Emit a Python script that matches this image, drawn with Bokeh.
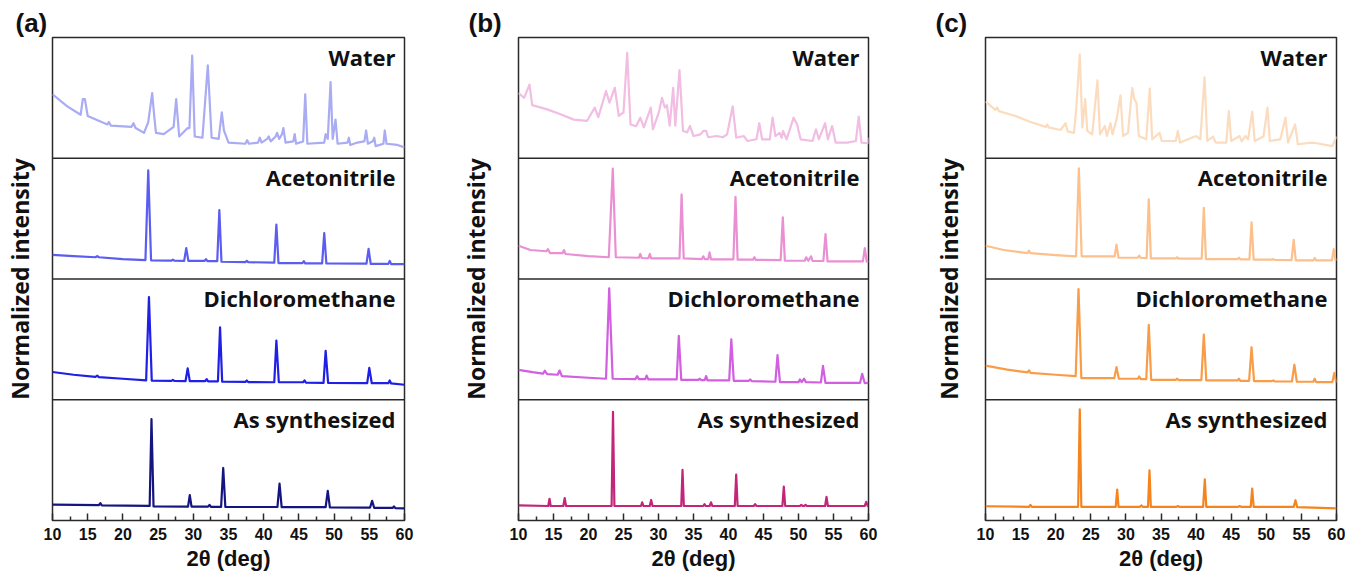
from bokeh.plotting import figure
from bokeh.models import Span, Label, FixedTicker, Range1d
from bokeh.layouts import row
from bokeh.embed import file_html
from bokeh.resources import INLINE

# ---------------- data (2-theta in deg, normalized intensity per sub-panel) ----------------
SAMPLES = ["Water", "Acetonitrile", "Dichloromethane", "As synthesized"]
PANELS = ["(a)", "(b)", "(c)"]
X_TICKS = [10, 15, 20, 25, 30, 35, 40, 45, 50, 55, 60]

# panel (a)
A_WATER_X = [10.0, 12.1, 14.0, 14.3, 14.6, 15.0, 17.8, 18.0, 18.3, 21.2, 21.5, 21.8, 23.0, 23.6, 24.16, 24.45, 24.7,
             25.8, 27.2, 27.57, 28.0, 29.2, 29.45, 29.84, 30.2, 31.3, 32.06, 32.6, 33.6, 34.05, 34.35, 35.0, 37.4,
             37.65, 37.9, 39.2, 39.45, 39.7, 40.5, 40.7, 41.0, 41.7, 41.9, 42.2, 42.6, 42.8, 43.1, 44.2, 44.4, 44.6,
             45.6, 45.9, 46.2, 48.6, 48.8, 49.1, 49.5, 49.8, 50.2, 50.5, 51.9, 52.1, 52.3, 53.3, 54.3, 54.55, 54.8,
             55.5, 55.7, 55.9, 57.0, 57.2, 57.45, 59.0, 60.0]
A_WATER_Y = [0.53, 0.43, 0.36, 0.49, 0.49, 0.35, 0.28, 0.30, 0.27, 0.26, 0.29, 0.25, 0.21, 0.30, 0.54, 0.35, 0.21,
             0.20, 0.26, 0.49, 0.18, 0.25, 0.25, 0.85, 0.18, 0.17, 0.77, 0.17, 0.16, 0.38, 0.23, 0.13, 0.12,
             0.15, 0.12, 0.13, 0.17, 0.13, 0.16, 0.18, 0.14, 0.18, 0.21, 0.16, 0.20, 0.25, 0.13, 0.14, 0.20, 0.12,
             0.14, 0.53, 0.12, 0.13, 0.20, 0.16, 0.63, 0.16, 0.32, 0.12, 0.13, 0.17, 0.11, 0.13, 0.14, 0.23, 0.12,
             0.14, 0.17, 0.10, 0.12, 0.23, 0.12, 0.11, 0.09]
A_ACN_X = [10.0, 13.0, 16.1, 16.35, 16.6, 20.0, 23.2, 23.6, 24.0, 26.9, 27.1, 27.3, 28.7, 29.0, 29.3, 31.6, 31.8, 32.0,
           33.4, 33.7, 34.0, 37.4, 37.6, 37.8, 41.5, 41.8, 42.1, 45.5, 45.7, 45.9, 48.3, 48.6, 48.9, 54.6, 54.9,
           55.2, 57.7, 57.9, 58.1, 60.0]
A_ACN_Y = [0.20, 0.19, 0.18, 0.19, 0.18, 0.165, 0.157, 0.90, 0.155, 0.152, 0.16, 0.152, 0.15, 0.256, 0.15, 0.15, 0.165,
           0.148, 0.148, 0.57, 0.143, 0.14, 0.15, 0.14, 0.135, 0.45, 0.132, 0.132, 0.148, 0.13, 0.13, 0.38, 0.13,
           0.128, 0.25, 0.125, 0.125, 0.15, 0.124, 0.124]
A_DCM_X = [10.0, 13.0, 16.1, 16.35, 16.6, 20.0, 23.3, 23.7, 24.1, 26.9, 27.1, 27.3, 28.9, 29.2, 29.5, 31.7, 31.9, 32.1,
           33.5, 33.8, 34.1, 37.4, 37.6, 37.8, 41.5, 41.8, 42.15, 45.6, 45.8, 46.0, 48.5, 48.8, 49.15, 54.7, 55.0,
           55.35, 57.7, 57.9, 58.1, 60.0]
A_DCM_Y = [0.23, 0.207, 0.19, 0.20, 0.188, 0.174, 0.16, 0.85, 0.158, 0.157, 0.165, 0.156, 0.155, 0.26, 0.155, 0.155,
           0.17, 0.153, 0.153, 0.60, 0.15, 0.148, 0.16, 0.146, 0.145, 0.49, 0.145, 0.145, 0.16, 0.142, 0.14, 0.405,
           0.14, 0.138, 0.264, 0.137, 0.137, 0.16, 0.135, 0.124]
A_AS_X = [10.0, 16.6, 16.8, 17.0, 23.8, 24.06, 24.35, 29.25, 29.5, 29.75, 32.1, 32.3, 32.5, 33.95, 34.25, 34.55, 41.95,
          42.25, 42.55, 48.8, 49.1, 49.4, 55.1, 55.4, 55.7, 58.3, 58.5, 58.7, 60.0]
A_AS_Y = [0.132, 0.128, 0.143, 0.126, 0.121, 0.84, 0.117, 0.115, 0.21, 0.115, 0.115, 0.13, 0.113, 0.113, 0.435, 0.112,
          0.112, 0.305, 0.11, 0.11, 0.245, 0.108, 0.106, 0.163, 0.104, 0.104, 0.117, 0.102, 0.10]

# panel (b)
B_WATER_X = [10.0, 10.8, 11.57, 11.96, 14.1, 16.0, 17.9, 19.8, 20.9, 21.4, 22.5, 23.0, 23.76, 24.33, 25.0, 25.53, 26.0,
             26.8, 27.4, 27.9, 28.9, 29.2, 30.05, 30.5, 30.9, 31.2, 31.6, 32.1, 32.4, 33.0, 33.5, 34.1, 34.5, 35.0,
             36.0, 36.4, 36.8, 37.1, 38.3, 39.2, 39.8, 40.6, 41.1, 42.2, 42.7, 44.0, 44.4, 44.8, 45.9, 46.3, 46.7,
             47.3, 47.6, 47.8, 48.3, 49.3, 49.8, 50.3, 52.0, 52.5, 52.9, 53.8, 54.2, 54.8, 55.3, 57.0, 58.2, 58.6,
             59.0, 59.9, 60.0]
B_WATER_Y = [0.54, 0.50, 0.61, 0.44, 0.405, 0.364, 0.32, 0.31, 0.42, 0.34, 0.556, 0.46, 0.584, 0.35, 0.38, 0.873, 0.28,
             0.265, 0.336, 0.256, 0.42, 0.24, 0.38, 0.50, 0.42, 0.44, 0.27, 0.584, 0.27, 0.73, 0.226, 0.215, 0.267,
             0.184, 0.198, 0.226, 0.226, 0.174, 0.184, 0.174, 0.198, 0.43, 0.17, 0.184, 0.143, 0.157, 0.29, 0.157,
             0.157, 0.336, 0.184, 0.21, 0.17, 0.226, 0.157, 0.336, 0.28, 0.157, 0.143, 0.24, 0.157, 0.29, 0.157,
             0.267, 0.13, 0.13, 0.143, 0.345, 0.13, 0.124, 0.17]
B_ACN_X = [10.0, 11.7, 14.0, 14.2, 14.5, 16.3, 16.5, 16.7, 20.0, 22.9, 23.47, 23.9, 27.2, 27.4, 27.6, 28.55, 28.76,
           28.95, 33.0, 33.3, 33.6, 36.2, 36.4, 36.6, 37.1, 37.3, 37.5, 40.7, 41.0, 41.3, 43.5, 43.7, 43.9, 47.45,
           47.76, 48.05, 50.9, 51.1, 51.4, 51.8, 52.0, 53.55, 53.86, 54.15, 59.2, 59.47, 59.75, 60.0]
B_ACN_Y = [0.275, 0.24, 0.23, 0.248, 0.215, 0.215, 0.24, 0.207, 0.19, 0.18, 0.915, 0.18, 0.176, 0.207, 0.174, 0.172,
           0.207, 0.171, 0.171, 0.70, 0.171, 0.165, 0.188, 0.165, 0.165, 0.22, 0.163, 0.163, 0.68, 0.16, 0.16, 0.18,
           0.158, 0.157, 0.51, 0.151, 0.151, 0.18, 0.151, 0.188, 0.149, 0.149, 0.372, 0.146, 0.146, 0.256, 0.143,
           0.15]
B_DCM_X = [10.0, 12.0, 13.5, 13.76, 14.1, 15.6, 15.86, 16.2, 20.0, 22.5, 22.96, 23.45, 26.7, 26.95, 27.2, 28.1, 28.3,
           28.55, 32.6, 32.9, 33.25, 35.7, 35.9, 36.1, 36.6, 36.8, 37.0, 40.1, 40.4, 40.75, 42.9, 43.1, 43.3, 46.7,
           47.0, 47.35, 50.0, 50.2, 50.45, 50.8, 51.05, 53.2, 53.5, 53.85, 58.8, 59.1, 59.45, 60.0]
B_DCM_Y = [0.248, 0.229, 0.217, 0.24, 0.212, 0.207, 0.242, 0.196, 0.182, 0.174, 0.923, 0.174, 0.171, 0.196, 0.171,
           0.171, 0.20, 0.168, 0.168, 0.53, 0.165, 0.165, 0.174, 0.163, 0.163, 0.196, 0.16, 0.16, 0.50, 0.157, 0.157,
           0.168, 0.155, 0.149, 0.37, 0.146, 0.146, 0.168, 0.146, 0.174, 0.146, 0.143, 0.28, 0.14, 0.14, 0.215,
           0.138, 0.14]
B_AS_X = [10.0, 14.25, 14.43, 14.6, 16.4, 16.6, 16.8, 23.3, 23.5, 23.7, 27.5, 27.67, 27.85, 28.75, 28.95, 29.15, 33.25,
          33.43, 33.62, 36.4, 36.57, 36.75, 37.3, 37.5, 37.7, 40.9, 41.1, 41.3, 43.6, 43.8, 44.0, 47.7, 47.9, 48.1,
          50.2, 50.4, 50.6, 50.8, 51.0, 51.2, 53.8, 54.0, 54.2, 59.45, 59.67, 59.9, 60.0]
B_AS_Y = [0.125, 0.12, 0.18, 0.12, 0.12, 0.185, 0.12, 0.12, 0.90, 0.12, 0.12, 0.15, 0.12, 0.12, 0.17, 0.12, 0.12,
          0.42, 0.12, 0.12, 0.135, 0.12, 0.12, 0.15, 0.12, 0.12, 0.38, 0.12, 0.12, 0.135, 0.12, 0.12, 0.28, 0.12,
          0.12, 0.13, 0.12, 0.12, 0.13, 0.12, 0.12, 0.196, 0.12, 0.12, 0.155, 0.12, 0.12]

# panel (c)
C_WATER_X = [10.0, 11.4, 11.67, 11.9, 14.27, 16.4, 18.6, 18.8, 19.0, 20.7, 21.4, 21.7, 22.6, 22.9, 23.43, 23.8, 24.2,
             24.5, 25.2, 25.95, 26.3, 27.0, 27.3, 27.8, 28.1, 28.66, 29.23, 29.6, 30.3, 30.9, 31.2, 31.5, 31.84,
             32.9, 33.4, 33.75, 34.8, 35.1, 37.1, 37.4, 37.7, 40.0, 40.6, 41.2, 41.6, 42.4, 42.8, 44.3, 44.66, 45.0,
             46.2, 46.5, 47.0, 47.4, 48.0, 48.35, 49.6, 50.17, 50.5, 52.0, 52.73, 53.1, 54.1, 54.5, 56.5, 57.2, 59.4,
             60.0]
C_WATER_Y = [0.47, 0.40, 0.42, 0.39, 0.35, 0.30, 0.26, 0.28, 0.256, 0.234, 0.29, 0.223, 0.21, 0.39, 0.86, 0.256, 0.49,
             0.226, 0.198, 0.645, 0.198, 0.267, 0.184, 0.29, 0.198, 0.32, 0.52, 0.184, 0.21, 0.584, 0.49, 0.46, 0.184,
             0.157, 0.576, 0.157, 0.21, 0.143, 0.143, 0.226, 0.13, 0.184, 0.157, 0.67, 0.143, 0.18, 0.13, 0.13, 0.39,
             0.143, 0.184, 0.14, 0.184, 0.157, 0.386, 0.143, 0.18, 0.42, 0.143, 0.157, 0.336, 0.13, 0.28, 0.116,
             0.13, 0.124, 0.10, 0.18]
C_ACN_X = [10.0, 12.6, 16.0, 16.2, 16.4, 20.0, 22.9, 23.3, 23.7, 28.4, 28.66, 28.95, 31.7, 31.9, 32.1, 32.95, 33.26,
           33.55, 37.1, 37.3, 37.5, 40.8, 41.1, 41.4, 45.9, 46.1, 46.3, 47.6, 47.9, 48.2, 50.8, 51.0, 51.2, 53.6,
           53.9, 54.2, 56.7, 56.9, 57.1, 59.35, 59.6, 59.85, 60.0]
C_ACN_Y = [0.275, 0.24, 0.215, 0.235, 0.214, 0.198, 0.188, 0.917, 0.188, 0.188, 0.284, 0.176, 0.176, 0.193, 0.176,
           0.173, 0.66, 0.171, 0.171, 0.18, 0.169, 0.169, 0.59, 0.165, 0.165, 0.176, 0.163, 0.163, 0.47, 0.16, 0.16,
           0.165, 0.158, 0.157, 0.325, 0.154, 0.154, 0.174, 0.154, 0.154, 0.248, 0.157, 0.165]
C_DCM_X = [10.0, 13.1, 16.0, 16.2, 16.4, 20.0, 22.85, 23.25, 23.65, 28.35, 28.66, 29.0, 31.7, 31.9, 32.1, 32.9, 33.26,
           33.6, 37.1, 37.3, 37.5, 40.75, 41.1, 41.45, 45.9, 46.1, 46.3, 47.55, 47.9, 48.25, 50.8, 51.0, 51.2,
           53.65, 54.0, 54.35, 56.7, 56.9, 57.1, 59.4, 59.7, 59.95, 60.0]
C_DCM_Y = [0.283, 0.25, 0.226, 0.244, 0.223, 0.207, 0.196, 0.917, 0.179, 0.179, 0.27, 0.174, 0.174, 0.193, 0.171,
           0.171, 0.62, 0.165, 0.165, 0.174, 0.163, 0.163, 0.54, 0.16, 0.16, 0.174, 0.157, 0.157, 0.435, 0.155,
           0.155, 0.16, 0.152, 0.151, 0.29, 0.149, 0.149, 0.174, 0.146, 0.146, 0.223, 0.146, 0.146]
C_AS_X = [10.0, 16.2, 16.4, 16.6, 23.2, 23.43, 23.65, 28.55, 28.76, 28.95, 32.0, 32.2, 32.4, 33.15, 33.36, 33.55,
          37.2, 37.4, 37.6, 41.0, 41.24, 41.45, 46.0, 46.2, 46.4, 47.78, 47.99, 48.2, 53.9, 54.16, 54.4, 60.0]
C_AS_Y = [0.118, 0.113, 0.13, 0.113, 0.113, 0.92, 0.113, 0.113, 0.256, 0.113, 0.113, 0.125, 0.113, 0.113, 0.416,
          0.113, 0.113, 0.12, 0.113, 0.113, 0.34, 0.113, 0.113, 0.12, 0.113, 0.113, 0.264, 0.113, 0.113, 0.168,
          0.11, 0.10]

A_COLORS = ["#a9abf3", "#5b5cf0", "#1f1fe6", "#15157f"]
B_COLORS = ["#f2bde2", "#ea8fd3", "#d25ee0", "#c2267a"]
C_COLORS = ["#fcdcbe", "#fbc08c", "#f99c48", "#f5841f"]

PANEL_DATA = [
    [(A_WATER_X, A_WATER_Y), (A_ACN_X, A_ACN_Y), (A_DCM_X, A_DCM_Y), (A_AS_X, A_AS_Y)],
    [(B_WATER_X, B_WATER_Y), (B_ACN_X, B_ACN_Y), (B_DCM_X, B_DCM_Y), (B_AS_X, B_AS_Y)],
    [(C_WATER_X, C_WATER_Y), (C_ACN_X, C_ACN_Y), (C_DCM_X, C_DCM_Y), (C_AS_X, C_AS_Y)],
]
PANEL_COLORS = [A_COLORS, B_COLORS, C_COLORS]

# ---------------- layout / style ----------------
H = 573
TOP = 37
BOTTOM = 53
FRAME_COLOR = "#2a2a2a"
# width, left border, right border, y-label standoff, panel-tag offset
GEOM = [(456, 52, 52, 17, -37), (473, 62, 61, 27, -50), (416, 56, 9, 21, -50)]


def make_panel(idx):
    width, bl, br, ystand, tag_off = GEOM[idx]
    n = len(SAMPLES)
    p = figure(width=width, height=H, x_range=Range1d(X_TICKS[0], X_TICKS[-1]), y_range=Range1d(0, n),
               output_backend="svg", toolbar_location=None,
               min_border_left=bl, min_border_right=br, min_border_top=TOP, min_border_bottom=BOTTOM)
    p.grid.visible = False
    p.outline_line_color = FRAME_COLOR
    p.outline_line_width = 1.5
    p.background_fill_color = "white"
    p.border_fill_color = "white"

    p.title.text = PANELS[idx]
    p.title.align = "left"
    p.title.offset = tag_off
    p.title.standoff = 0
    p.title.text_font = "Liberation Sans"
    p.title.text_font_style = "bold"
    p.title.text_font_size = "26px"
    p.title.text_color = "#111111"

    for k, ((xs, ys), col) in enumerate(zip(PANEL_DATA[idx], PANEL_COLORS[idx])):
        off = n - 1 - k
        p.line(xs, [y + off for y in ys], line_color=col, line_width=2.2, line_join="round")
        p.add_layout(Label(x=X_TICKS[-1], y=off + 1, x_offset=-9, y_offset=-4, text=SAMPLES[k],
                           text_align="right", text_baseline="top", text_font="Open Sans",
                           text_font_style="bold", text_font_size="22px", text_color="#111111"))
        if k > 0:
            p.add_layout(Span(location=off + 1, dimension="width", line_color=FRAME_COLOR, line_width=1.5))

    xa = p.xaxis[0]
    xa.ticker = FixedTicker(ticks=X_TICKS, minor_ticks=[t + 2.5 for t in X_TICKS[:-1]])
    xa.axis_line_color = None
    xa.major_tick_in = 7
    xa.major_tick_out = 0
    xa.minor_tick_in = 4
    xa.minor_tick_out = 0
    xa.major_tick_line_color = FRAME_COLOR
    xa.minor_tick_line_color = FRAME_COLOR
    xa.major_tick_line_width = 1.5
    xa.minor_tick_line_width = 1.5
    xa.major_label_text_font = "Liberation Sans"
    xa.major_label_text_font_style = "bold"
    xa.major_label_text_font_size = "16px"
    xa.major_label_text_color = "#111111"
    xa.major_label_standoff = 7
    xa.axis_label = "2θ (deg)"
    xa.axis_label_text_font = "Liberation Sans"
    xa.axis_label_text_font_style = "bold"
    xa.axis_label_text_font_size = "22px"
    xa.axis_label_text_color = "#111111"
    xa.axis_label_standoff = 3

    ya = p.yaxis[0]
    ya.ticker = FixedTicker(ticks=[])
    ya.axis_line_color = None
    ya.major_tick_line_color = None
    ya.minor_tick_line_color = None
    ya.major_label_standoff = 0
    ya.axis_label = "Normalized intensity"
    ya.axis_label_text_font = "Open Sans"
    ya.axis_label_text_font_style = "bold"
    ya.axis_label_text_font_size = "23px"
    ya.axis_label_text_color = "#111111"
    ya.axis_label_standoff = ystand
    return p


layout = row(*[make_panel(i) for i in range(3)])
open("out.html", "w").write(file_html(layout, INLINE))
